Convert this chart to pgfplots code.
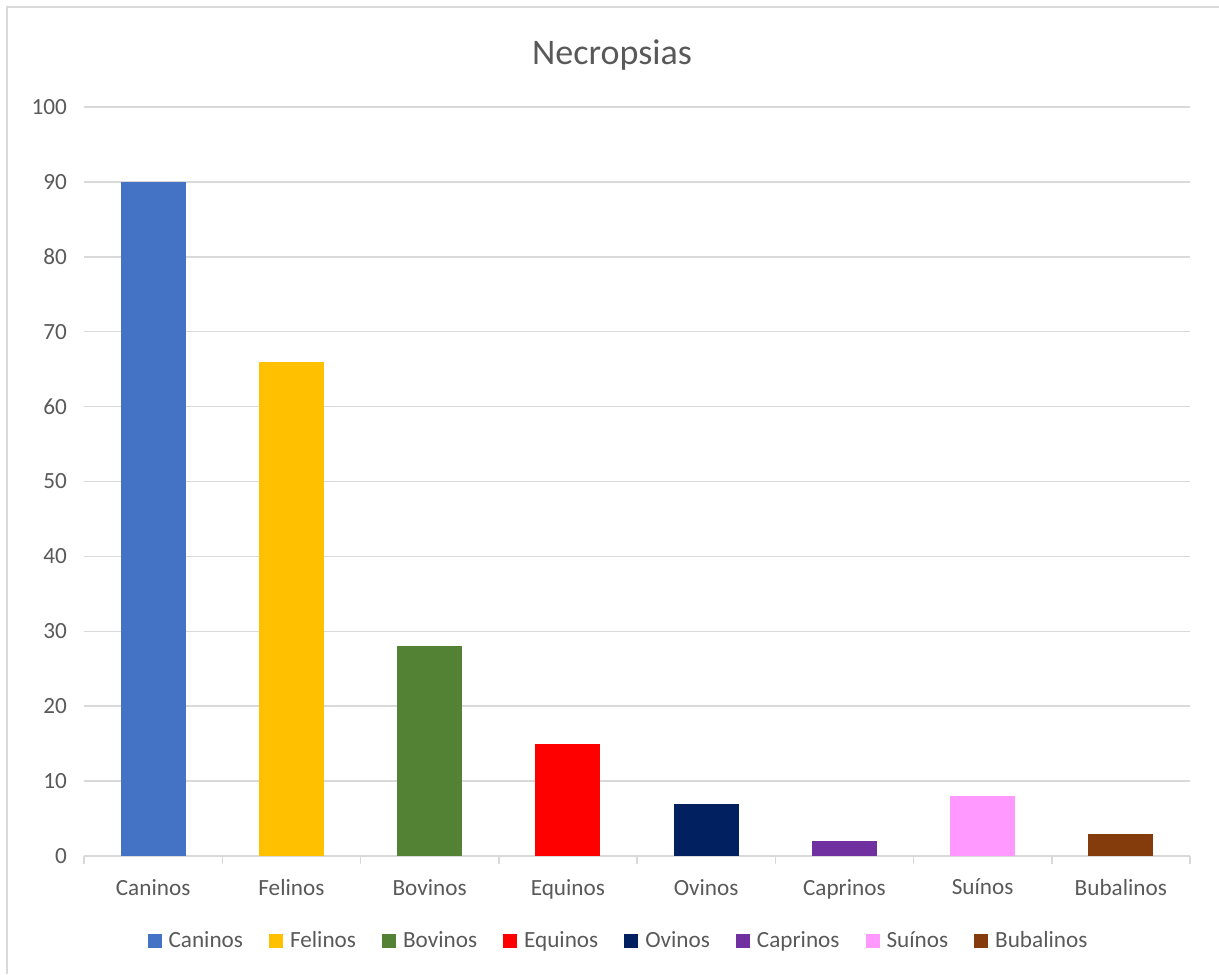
\documentclass[border=0pt]{standalone}
\usepackage{pgfplots}
\pgfplotsset{compat=1.18}
\usepackage{fontspec}
\setmainfont{Carlito}
\definecolor{txt}{HTML}{595959}
\definecolor{gridc}{HTML}{D9D9D9}
\definecolor{c1}{HTML}{4472C4}
\definecolor{c2}{HTML}{FFC000}
\definecolor{c3}{HTML}{548235}
\definecolor{c4}{HTML}{FF0000}
\definecolor{c5}{HTML}{002060}
\definecolor{c6}{HTML}{7030A0}
\definecolor{c7}{HTML}{FF99FF}
\definecolor{c8}{HTML}{843C0C}
\begin{document}
\begin{tikzpicture}
\path[use as bounding box] (0,0) rectangle (609.5pt,487pt);
\draw[gridc, line width=1pt] (3.5pt,0) -- (3.5pt,483.5pt) -- (609.5pt,483.5pt);
\node[txt, font=\fontsize{18}{21}\selectfont] at (306pt,459.5pt) {Necropsias};
\begin{axis}[
  at={(42pt,59pt)}, anchor=south west,
  scale only axis, width=553pt, height=374.5pt,
  xmin=-0.5, xmax=7.5, ymin=0, ymax=100,
  ytick={0,10,...,100},
  ymajorgrids, grid style={gridc, line width=0.75pt},
  axis line style={draw=none},
  axis x line*=bottom, axis y line*=left,
  x axis line style={draw=gridc, line width=0.75pt},
  y axis line style={draw=none},
  xtick={0,...,7},
  xticklabels={Caninos,Felinos,Bovinos,Equinos,Ovinos,Caprinos,Suínos,Bubalinos},
  major tick length=0pt,
  extra x ticks={-0.5,0.5,...,7.5},
  extra x tick labels={},
  extra x tick style={grid=none, major tick length=4pt, tick align=outside, tick style={draw=gridc, line width=0.75pt}},
  tick label style={txt, font=\fontsize{11.6}{13}\selectfont},
  /pgf/number format/assume math mode=true,
  yticklabel style={xshift=-5pt},
  xticklabel style={yshift=-8pt},
  bar width=32.5pt,
  legend columns=8,
  legend style={at={(0.5,-0.1135)}, anchor=center, xshift=-8.75pt, draw=none, fill=none,
    font=\fontsize{11.6}{13}\selectfont, text=txt,
    /tikz/every odd column/.append style={column sep=1.5pt},
    /tikz/every even column/.append style={column sep=11pt}},
  legend image code/.code={\fill[#1] (0pt,-3.5pt) rectangle (7pt,3.5pt);},
  legend cell align=left,
]
\addplot[ybar, bar shift=0pt, fill=c1, draw=none] coordinates {(0,90)};
\addlegendentry{Caninos}
\addplot[ybar, bar shift=0pt, fill=c2, draw=none] coordinates {(1,66)};
\addlegendentry{Felinos}
\addplot[ybar, bar shift=0pt, fill=c3, draw=none] coordinates {(2,28)};
\addlegendentry{Bovinos}
\addplot[ybar, bar shift=0pt, fill=c4, draw=none] coordinates {(3,15)};
\addlegendentry{Equinos}
\addplot[ybar, bar shift=0pt, fill=c5, draw=none] coordinates {(4,7)};
\addlegendentry{Ovinos}
\addplot[ybar, bar shift=0pt, fill=c6, draw=none] coordinates {(5,2)};
\addlegendentry{Caprinos}
\addplot[ybar, bar shift=0pt, fill=c7, draw=none] coordinates {(6,8)};
\addlegendentry{Suínos}
\addplot[ybar, bar shift=0pt, fill=c8, draw=none] coordinates {(7,3)};
\addlegendentry{Bubalinos}
\end{axis}
\end{tikzpicture}
\end{document}
